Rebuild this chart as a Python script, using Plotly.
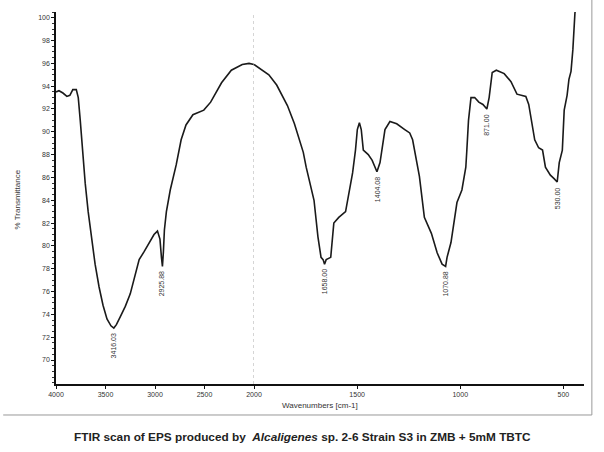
import plotly.graph_objects as go

# ---- data: wavenumber (cm-1) and % transmittance ----
wn_high = [4000, 3970, 3930, 3890, 3860, 3830, 3795, 3775, 3755, 3735, 3705, 3675,
           3645, 3605, 3565, 3525, 3485, 3445, 3416, 3390, 3350, 3300, 3250, 3200,
           3160, 3110, 3060, 3010, 2975, 2950, 2935, 2925, 2915, 2905, 2885, 2846,
           2786, 2736, 2687, 2617, 2507, 2438, 2328, 2229, 2119, 2050, 2000]
tr_high = [93.5, 93.6, 93.4, 93.1, 93.2, 93.7, 93.7, 93.0, 91.0, 88.5, 85.5, 83.0,
           80.8, 78.4, 76.4, 74.8, 73.6, 73.0, 72.8, 73.1, 73.8, 74.7, 75.8, 77.4,
           78.8, 79.5, 80.3, 81.0, 81.3, 80.6, 79.0, 78.2, 79.5, 81.4, 83.0, 84.9,
           87.1, 89.3, 90.6, 91.5, 91.9, 92.6, 94.3, 95.4, 95.9, 96.0, 95.9]

wn_low = [2000, 1957, 1928, 1890, 1862, 1838, 1804, 1780, 1761, 1747, 1728, 1709,
          1690, 1675, 1665, 1658, 1650, 1628, 1613, 1589, 1556, 1542, 1522, 1508,
          1499, 1489, 1480, 1470, 1446, 1427, 1404, 1389, 1379, 1365, 1341, 1308,
          1269, 1245, 1231, 1222, 1198, 1174, 1140, 1112, 1088, 1071, 1064, 1045,
          1016, 992, 973, 968, 960, 948, 930, 910, 890, 871, 860, 845, 825, 787,
          754, 725, 682, 668, 658, 639, 620, 601, 587, 563, 545, 530, 520, 505,
          496, 482, 473, 463, 454, 444, 435]
tr_low = [95.9, 95.4, 95.0, 94.1, 93.2, 92.3, 90.7, 89.3, 88.2, 86.9, 85.4, 84.0,
          80.8, 79.0, 78.8, 78.4, 78.8, 79.0, 82.0, 82.5, 83.0, 84.3, 86.4, 88.4,
          90.2, 90.8, 90.2, 88.4, 88.0, 87.5, 86.5, 87.3, 88.4, 90.2, 90.9, 90.7,
          90.2, 89.9, 89.3, 88.4, 86.1, 82.5, 81.1, 79.4, 78.4, 78.2, 79.0, 80.3,
          83.8, 84.9, 86.9, 88.4, 91.0, 93.0, 93.0, 92.6, 92.4, 92.0, 93.0, 95.2,
          95.4, 95.1, 94.4, 93.3, 93.1, 92.4, 91.3, 89.3, 88.6, 88.4, 86.9, 86.2,
          85.9, 85.6, 87.3, 88.4, 91.9, 93.2, 94.6, 95.3, 97.2, 100.4, 101.6]

peak_wn = [3416.03, 2925.88, 1658.00, 1404.08, 1070.88, 871.00, 530.00]
peak_tr = [72.8, 78.2, 78.4, 86.5, 78.2, 92.0, 85.6]
peak_txt = ["3416.03", "2925.88", "1658.00", "1404.08", "1070.88", "871.00", "530.00"]

xt_high = [4000, 3500, 3000, 2500, 2000]
xt_low = [1500, 1000, 500]
yt = list(range(70, 101, 2))

FONT = "Liberation Sans, Arial, sans-serif"
LINE = "#1a1a1a"

fig = go.Figure()
fig.add_trace(go.Scatter(x=wn_high, y=tr_high, mode="lines", xaxis="x", yaxis="y",
                         line=dict(color=LINE, width=1.6), hoverinfo="skip", showlegend=False))
fig.add_trace(go.Scatter(x=wn_low, y=tr_low, mode="lines", xaxis="x2", yaxis="y",
                         line=dict(color=LINE, width=1.6), hoverinfo="skip", showlegend=False))

ann = []
for w, t, s in zip(peak_wn, peak_tr, peak_txt):
    ann.append(dict(x=w, y=t, xref="x" if w >= 2000 else "x2", yref="y",
                    text=s, textangle=-90, showarrow=False, xanchor="center",
                    yanchor="top", yshift=-3,
                    font=dict(family=FONT, size=7, color="#333")))

# axis titles and caption
ann.append(dict(x=0.50, y=-0.059, xref="paper", yref="paper", text="Wavenumbers [cm-1]",
                showarrow=False, xanchor="center", yanchor="middle",
                font=dict(family=FONT, size=8, color="#333")))
ann.append(dict(x=-0.0728, y=0.495, xref="paper", yref="paper", text="% Transmittance",
                textangle=-90, showarrow=False, xanchor="center", yanchor="middle",
                font=dict(family=FONT, size=8, color="#333")))
ann.append(dict(x=0.466, y=-0.1425, xref="paper", yref="paper",
                text="<b>FTIR scan of EPS produced by  <i>Alcaligenes</i> sp. 2-6 Strain S3 in ZMB + 5mM TBTC</b>",
                showarrow=False, xanchor="center", yanchor="middle",
                font=dict(family=FONT, size=11.8, color="#222")))

shapes = [
    dict(type="line", xref="x", yref="y", x0=2000, x1=2000, y0=67.9, y1=100.5,
         line=dict(color="#aaa", width=1, dash="dot")),
    dict(type="line", xref="paper", yref="paper", x0=-0.1, x1=1.0149, y0=-0.0833, y1=-0.0833,
         line=dict(color="#999", width=1)),
    dict(type="line", xref="paper", yref="paper", x0=1.0149, x1=1.0149, y0=-0.0833, y1=1.04,
         line=dict(color="#999", width=1)),
]

axis_common = dict(showline=True, linecolor="#111", linewidth=1.5, showgrid=False,
                   zeroline=False, ticks="outside", ticklen=3, tickcolor="#111",
                   tickfont=dict(family=FONT, size=7, color="#333"))

fig.update_layout(
    width=604, height=452,
    margin=dict(l=56, r=12, t=12, b=68),
    paper_bgcolor="white", plot_bgcolor="white",
    xaxis=dict(domain=[0, 0.375], range=[4000, 2000], tickvals=xt_high,
               ticktext=[str(v) for v in xt_high], anchor="y", **axis_common),
    xaxis2=dict(domain=[0.375, 1], range=[2000, 400], tickvals=xt_low,
                ticktext=[str(v) for v in xt_low], anchor="y", **axis_common),
    yaxis=dict(range=[67.9, 100.5], tickvals=yt, ticktext=[str(v) for v in yt],
               minor=dict(dtick=0.5, ticks="outside", ticklen=2, tickcolor="#333"),
               **axis_common),
    annotations=ann, shapes=shapes,
)

fig.write_html("out.html")
